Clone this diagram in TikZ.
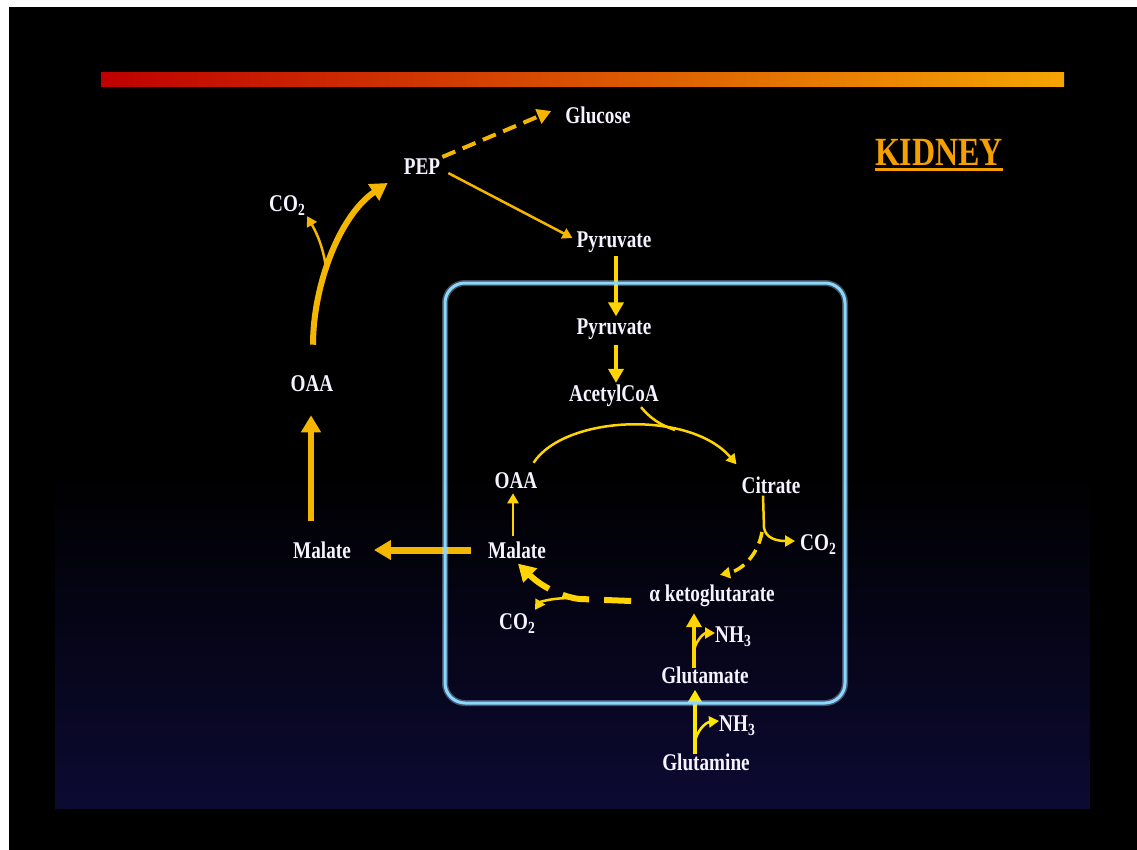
\documentclass[tikz,border=0pt]{standalone}
\usepackage{fontspec}
\setmainfont{Liberation Serif}[FakeStretch=0.8]
\usetikzlibrary{arrows.meta,calc}
\definecolor{gold}{RGB}{245,182,0}
\definecolor{yel}{RGB}{255,212,0}
\definecolor{byel}{RGB}{255,232,0}
\definecolor{txt}{RGB}{246,242,255}
\definecolor{boxblue}{RGB}{140,215,255}
\definecolor{navy}{RGB}{12,10,50}
\definecolor{kid}{RGB}{245,160,0}
\definecolor{bardark}{RGB}{190,0,0}
\definecolor{barlight}{RGB}{245,165,0}
\newcommand\mysub[1]{\raisebox{-4pt}{\fontsize{17}{18}\selectfont #1}}
\begin{document}
\begin{tikzpicture}[x=1pt,y=-1pt,
  lbl/.style={text=txt,font=\fontsize{24}{27}\selectfont\bfseries,inner sep=2pt},
  thinarr/.style={draw=#1,line width=2.5pt,-{Triangle[length=10pt,width=11pt]}},
  medarr/.style={draw=#1,line width=4.5pt,-{Triangle[length=14pt,width=15pt]}},
  bigarr/.style={draw=#1,line width=6.5pt,-{Triangle[length=17pt,width=19pt]}},
  thinline/.style={draw=#1,line width=2.5pt}]
% background
\fill[white] (0,0) rectangle (1137,850);
\fill[black] (9,7) rectangle (1137,850);
\shade[top color=black,bottom color=navy] (55,470) rectangle (1090,808);
\shade[left color=bardark,right color=barlight] (101,73) rectangle (1064,87);

% nodes
\node[lbl] (glucose) at (598,115) {Glucose};
\node[lbl] (pep) at (422,167) {PEP};
\node[text=kid,font=\fontsize{40}{44}\selectfont\bfseries,inner sep=0pt] (kidney) at (939,152) {KIDNEY};
\node[lbl] (co2a) at (287,206) {CO\mysub{2}};
\node[lbl] (pyr1) at (614,242) {Pyruvate};
\node[lbl] (pyr2) at (614,329) {Pyruvate};
\node[lbl] (acoa) at (614,396) {AcetylCoA};
\node[lbl] (oaa1) at (516,481) {OAA};
\node[lbl] (cit) at (771,485) {Citrate};
\node[lbl] (co2b) at (818,545) {CO\mysub{2}};
\node[lbl] (mal1) at (517,550) {Malate};
\node[lbl] (akg) at (712,596) {α ketoglutarate};
\node[lbl] (co2c) at (517,624) {CO\mysub{2}};
\node[lbl] (nh3a) at (733,637) {NH\mysub{3}};
\node[lbl] (glu) at (705,675) {Glutamate};
\node[lbl] (nh3b) at (737,726) {NH\mysub{3}};
\node[lbl] (gln) at (706,762) {Glutamine};
\node[lbl] (mal2) at (322,550) {Malate};
\node[lbl] (oaa2) at (312,384) {OAA};

\draw[kid,line width=2.5pt] ($(kidney.south west)+(0,4)$) -- ($(kidney.south east)+(0,4)$);

% branch points
\coordinate (oaabr) at (326,268);
\coordinate (citbr) at (764,528);
\coordinate (akgbr) at (580,599);
\coordinate (glubr) at (694,650);
\coordinate (glnbr) at (696,738);

% outer connectors
\draw[medarr=gold,line width=4pt,dash pattern=on 14pt off 8pt] ($(pep.north east)+(0,0)$) -- ($(glucose.west)+(-12,-4)$);
\draw[thinarr=gold] ($(pep.south east)+(6,-4)$) -- ($(pyr1.west)+(-2,-4)$);
\draw[bigarr=gold,line width=6pt] ($(oaa2.north)+(1,-29)$) .. controls (313,285) and (340,215) .. ($(pep.west)+(-14,16)$);
\draw[thinarr=gold] (oaabr) .. controls (323,245) and (315,230) .. ($(co2a.south)+(20,-2)$);
\draw[bigarr=gold] ($(mal2.north)+(-11,-18)$) -- ($(oaa2.south)+(-1,21)$);
\draw[bigarr=gold,line width=7pt] ($(mal1.west)+(-15,0)$) -- ($(mal2.east)+(21,0)$);

% inner connectors
\draw[medarr=yel] ($(pyr1.south)+(2,1)$) -- ($(pyr2.north)+(2,0)$);
\draw[medarr=yel] ($(pyr2.south)+(2,3)$) -- ($(acoa.north)+(2,0)$);
\draw[thinarr=yel] ($(oaa1.north east)+(-6,-8)$) .. controls (565,415) and (690,410) .. ($(cit.north west)+(-3,-10)$);
\draw[thinline=yel] ($(acoa.south east)+(-20,-2)$) .. controls (650,418) and (660,425) .. (675,430);
\draw[thinline=yel] ($(cit.south)+(-8,0)$) -- (citbr);
\draw[thinarr=yel] (citbr) .. controls (766,538) and (776,541) .. ($(co2b.west)+(-3,-4)$);
\draw[thinarr=yel,dash pattern=on 12pt off 7pt,line width=3.5pt] ($(citbr)+(-2,4)$) .. controls (758,555) and (742,570) .. ($(akg.north)+(8,-8)$);
\draw[bigarr=yel,line width=6pt,dash pattern=on 27pt off 15pt] ($(akg.west)+(-16,5)$) -- (akgbr) .. controls (568,598) and (545,590) .. ($(mal1.south)+(1,3)$);
\draw[thinarr=yel] (akgbr) .. controls (558,596) and (540,602) .. ($(co2c.north east)+(-2,-2)$);
\draw[thinarr=yel] ($(mal1.north)+(-4,-3)$) -- ($(oaa1.south)+(-3,2)$);
\draw[medarr=yel] ($(glu.north)+(-11,4)$) -- ($(akg.south)+(-18,4)$);
\draw[thinarr=yel] (glubr) .. controls (697,638) and (705,633) .. ($(nh3a.west)+(2,-4)$);
\draw[medarr=byel] ($(gln.north)+(-11,3)$) -- ($(glu.south)+(-10,4)$);
\draw[thinarr=byel] (glnbr) .. controls (699,728) and (707,722) .. ($(nh3b.west)+(2,-5)$);

% mitochondrion box
\draw[boxblue!60,line width=6pt,opacity=0.35,rounded corners=20pt] (445,283) rectangle (845,703);
\draw[boxblue,line width=3pt,rounded corners=20pt] (445,283) rectangle (845,703);
\end{tikzpicture}
\end{document}
